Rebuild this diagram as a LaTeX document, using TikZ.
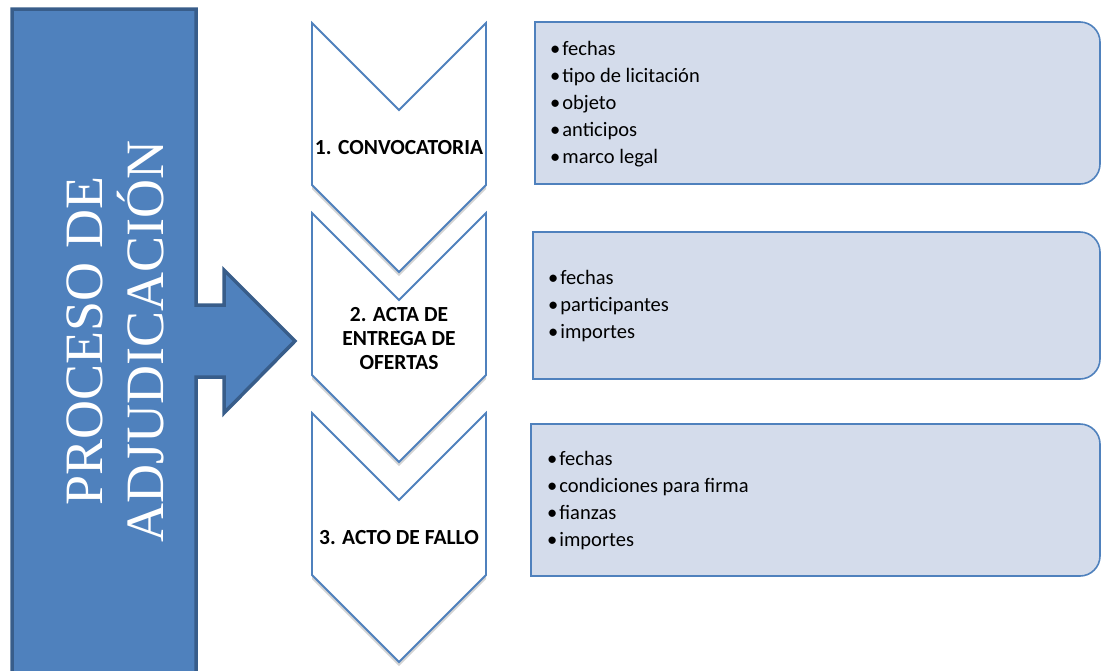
\documentclass[tikz,border=0pt]{standalone}
\usepackage{fontspec}
\setmainfont{Carlito}
\newfontfamily\titlefont{Liberation Serif}
\usetikzlibrary{positioning,shadows}

\definecolor{procblue}{HTML}{4F81BD}
\definecolor{procedge}{HTML}{385D8A}
\definecolor{listfill}{HTML}{D4DCEB}

\tikzset{
  procarrow/.style={fill=procblue,draw=procedge,line width=3.5pt,line join=miter},
  chevshape/.style={fill=white,draw=procblue,line width=1.8pt,
    drop shadow={shadow xshift=0pt,shadow yshift=-4pt,opacity=0.35}},
  chevlabel/.style={font=\bfseries\fontsize{21.5}{24}\selectfont,align=center,inner sep=0pt},
  listbox/.style={fill=listfill,draw=procblue,line width=1.6pt},
  listtext/.style={font=\fontsize{20.5}{27}\selectfont,align=left,inner sep=0pt,anchor=west},
  bigtitle/.style={font=\titlefont\fontsize{54}{61}\selectfont,text=white,align=center,rotate=90,inner sep=0pt}
}

\begin{document}
\begin{tikzpicture}[x=1pt,y=-1pt]
\useasboundingbox (0,0) rectangle (1101,670);
\clip (0,0) rectangle (1101,670);

% big arrow on the left
\draw[procarrow] (12,9) -- (196,9) -- (196,305) -- (224,305) -- (224,270) -- (295,341)
  -- (224,413) -- (224,377) -- (196,377) -- (196,690) -- (12,690) -- cycle;
\node[bigtitle] (title) at (115,341) {PROCESO DE\\ADJUDICACIÓN};

% chevrons
\draw[chevshape] (312,23) -- (399,110) -- (486,23) -- (486,185) -- (399,272) -- (312,185) -- cycle;
\draw[chevshape] (312,213) -- (399,300) -- (486,213) -- (486,375) -- (399,462) -- (312,375) -- cycle;
\draw[chevshape] (312,413) -- (399,500) -- (486,413) -- (486,575) -- (399,662) -- (312,575) -- cycle;
\node[chevlabel] (conv) at (399,148) {1. CONVOCATORIA};
\node[chevlabel] (acta) at (399,339) {2. ACTA DE\\ENTREGA DE\\OFERTAS};
\node[chevlabel] (fallo) at (399,538) {3. ACTO DE FALLO};

% boxes on the right, rounded on the right side only
\draw[listbox] (535,22) -- (1080,22) .. controls (1091,22) and (1100,31) .. (1100,42)
  -- (1100,164) .. controls (1100,175) and (1091,184) .. (1080,184) -- (535,184) -- cycle;
\draw[listbox] (533,232) -- (1080,232) .. controls (1091,232) and (1100,241) .. (1100,252)
  -- (1100,359) .. controls (1100,370) and (1091,379) .. (1080,379) -- (533,379) -- cycle;
\draw[listbox] (531,424) -- (1080,424) .. controls (1091,424) and (1100,433) .. (1100,444)
  -- (1100,556) .. controls (1100,567) and (1091,576) .. (1080,576) -- (531,576) -- cycle;

\node[listtext] (convlist) at (550,104) {\textbullet\hspace{2pt}fechas\\\textbullet\hspace{2pt}tipo de licitación\\\textbullet\hspace{2pt}objeto\\\textbullet\hspace{2pt}anticipos\\\textbullet\hspace{2pt}marco legal};
\node[listtext] (actalist) at (548,306) {\textbullet\hspace{2pt}fechas\\\textbullet\hspace{2pt}participantes\\\textbullet\hspace{2pt}importes};
\node[listtext] (fallolist) at (547,501) {\textbullet\hspace{2pt}fechas\\\textbullet\hspace{2pt}condiciones para firma\\\textbullet\hspace{2pt}fianzas\\\textbullet\hspace{2pt}importes};
\end{tikzpicture}
\end{document}
